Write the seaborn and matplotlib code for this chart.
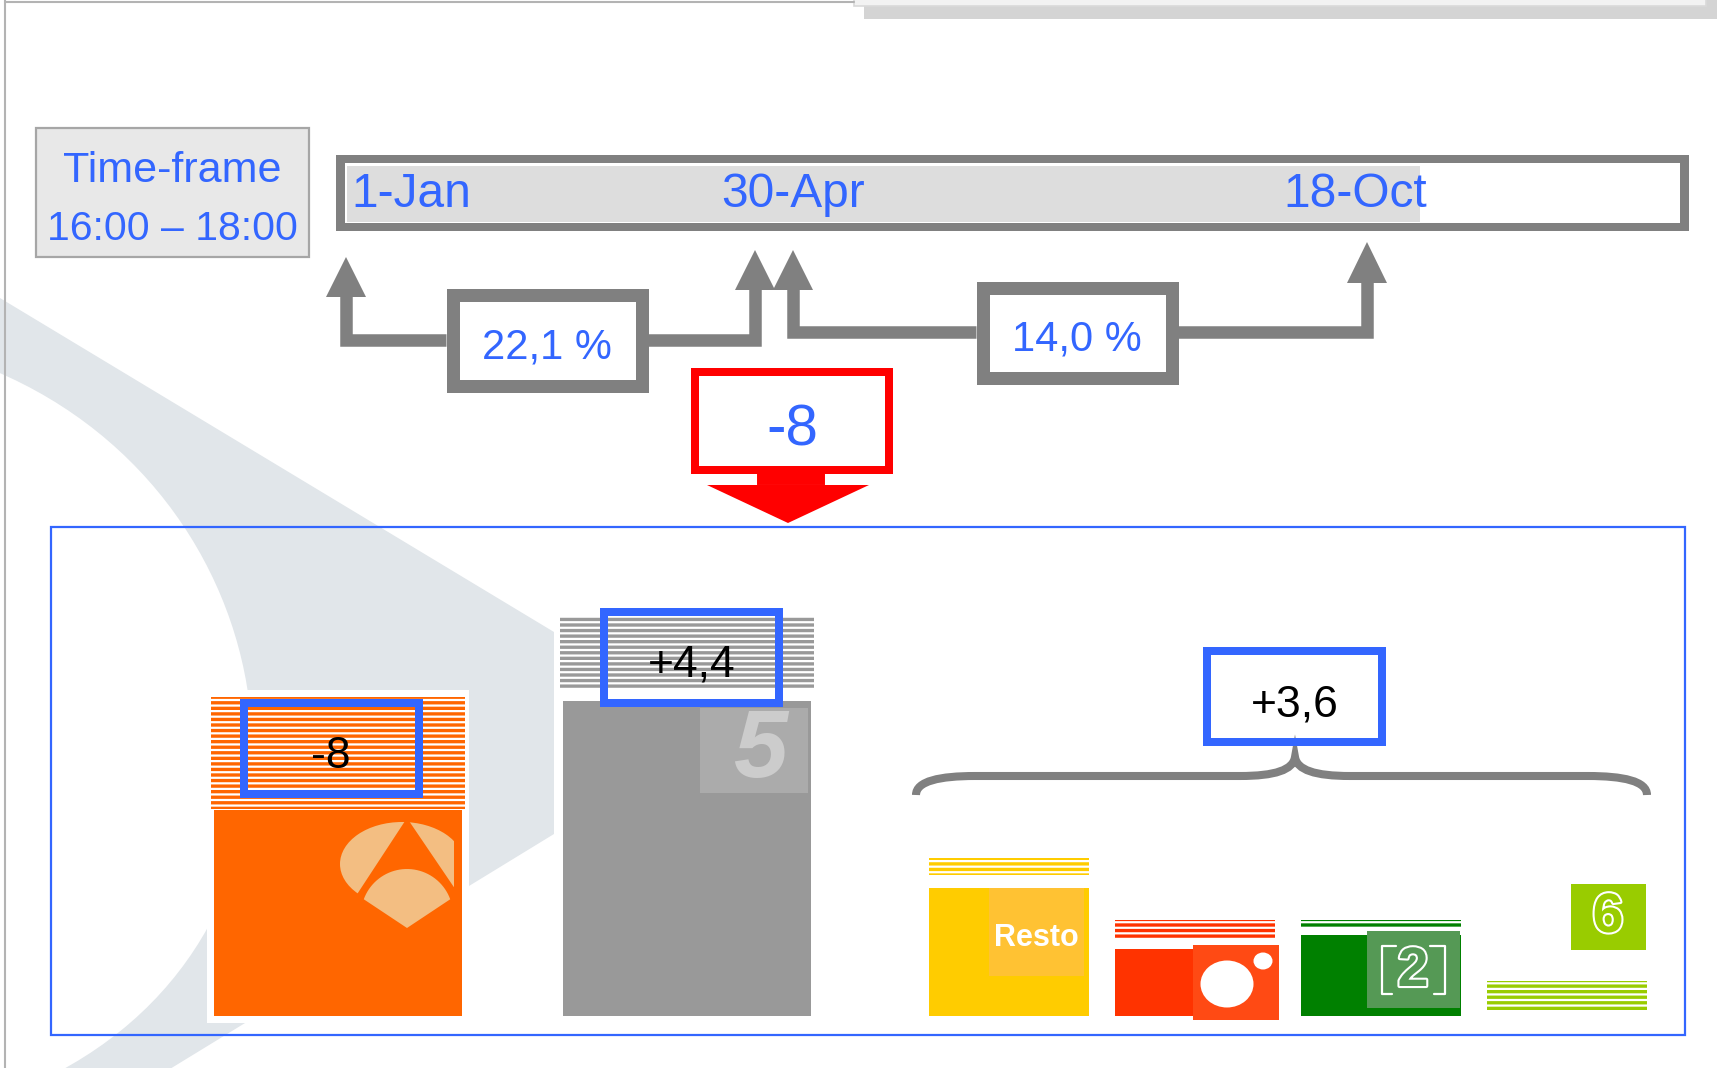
import matplotlib
matplotlib.use('Agg')
import numpy as np
import pandas as pd
import seaborn as sns
import matplotlib.pyplot as plt
import matplotlib.patheffects as pe
from matplotlib import font_manager
from matplotlib.patches import Rectangle, Polygon, Ellipse, PathPatch
from matplotlib.path import Path

# --- data (audience share, points) ---
big_channels = ['Antena 3', 'Telecinco']
big_base = [14.2, 21.7]      # solid part
big_gap = [14.3, 22.5]       # start of striped part
big_top = [22.0, 27.6]       # top of striped part
big_colors = ['#FF6600', '#999999']

small_channels = ['Resto', 'TVE1', 'La 2', 'La Sexta']
small_base = [8.8, 4.6, 5.6, 0.0]
small_gap = [9.7, 5.4, 6.1, 0.3]
small_top = [10.9, 6.6, 6.6, 2.4]
small_colors = ['#FFCC00', '#FF3300', '#008000', '#99CC00']

dates = ['1-Jan', '30-Apr', '18-Oct']
period_shares = ['22,1 %', '14,0 %']
total_change = '-8'
change_labels = ['-8', '+4,4', '+3,6']
timeframe = ['Time-frame', '16:00 – 18:00']

# --- style ---
sns.set_theme(style='white')
installed = {f.name for f in font_manager.fontManager.ttflist}
narrow = 'Liberation Sans Narrow' if 'Liberation Sans Narrow' in installed else 'Liberation Sans'
plt.rcParams['font.family'] = [narrow, 'DejaVu Sans']
plt.rcParams['hatch.linewidth'] = 2.4

BLUE = '#3366FF'
GRAY = '#808080'
RED = '#FF0000'
W, H = 1718, 1068
UNIT_PX = 14.5  # pixels per share point

fig = plt.figure(figsize=(W / 100, H / 100), dpi=100)
fig.patch.set_facecolor('white')


def px_axes(x0, y0, x1, y1, z):
    ax = fig.add_axes([x0 / W, 1 - y1 / H, (x1 - x0) / W, (y1 - y0) / H], zorder=z)
    ax.axis('off')
    return ax


# background layer: swoosh, frame lines
bg = px_axes(0, 0, W, H, 0)
bg.set_xlim(0, W)
bg.set_ylim(H, 0)
swoosh = Path([(-5, 295), (554, 632), (554, 834), (165, 1072), (58, 1072),
               (350, 917), (300, 500), (-5, 371), (-5, 295)],
              [Path.MOVETO, Path.LINETO, Path.LINETO, Path.LINETO, Path.LINETO,
               Path.CURVE4, Path.CURVE4, Path.CURVE4, Path.CLOSEPOLY])
bg.add_patch(PathPatch(swoosh, fc='#E1E6EA', ec='none'))
bg.add_patch(Rectangle((207, 690), 262, 333, fc='white', ec='none'))
bg.plot([5, 5], [0, H], color='#B3B3B3', lw=1.5)
bg.plot([5, 854], [2, 2], color='#B3B3B3', lw=1.5)
bg.add_patch(Rectangle((864, 0), 853, 19, fc='#D4D4D4', ec='none'))
bg.add_patch(Rectangle((854, -5), 852, 11, fc='#F2F2F2', ec='#D9D9D9', lw=1.2))


def draw_bars(ax, cats, base, gap, top, colors, width, solid_width):
    df = pd.DataFrame({'channel': cats, 'base': base, 'gap': gap, 'top': top})
    n0 = len(ax.patches)
    sns.barplot(data=df, x='channel', y='top', order=cats, color='white', width=width,
                errorbar=None, saturation=1, ax=ax)
    for p, c in zip(ax.patches[n0:], colors):
        p.set_facecolor('white')
        p.set_edgecolor(c)
        p.set_linewidth(0)
        p.set_hatch('---')
    n1 = len(ax.patches)
    sns.barplot(data=df, x='channel', y='gap', order=cats, color='white', width=width,
                errorbar=None, saturation=1, ax=ax)
    for p in ax.patches[n1:]:
        p.set_linewidth(0)
    n2 = len(ax.patches)
    sns.barplot(data=df, x='channel', y='base', order=cats, hue='channel', palette=colors,
                width=solid_width, errorbar=None, saturation=1, legend=False, ax=ax)
    for p in ax.patches[n2:]:
        p.set_linewidth(0)
    ax.set_xlim(-0.5, len(cats) - 0.5)
    ax.set_ylim(0, (1016 - 527) / UNIT_PX)
    ax.axis('off')


ax_big = px_axes(163.5, 527, 861.5, 1016, 1)
draw_bars(ax_big, big_channels, big_base, big_gap, big_top, big_colors, 0.73, 0.71)
ax_small = px_axes(916, 527, 1660, 1016, 1)
draw_bars(ax_small, small_channels, small_base, small_gap, small_top, small_colors, 0.855, 0.855)

# foreground layer: timeline, arrows, boxes, logos
ov = px_axes(0, 0, W, H, 3)
ov.set_xlim(0, W)
ov.set_ylim(H, 0)


def frame(x0, y0, x1, y1, t, ec, fc='none', z=3):
    ov.add_patch(Rectangle((x0 + t / 2, y0 + t / 2), x1 - x0 - t, y1 - y0 - t, fc=fc, ec=ec,
                           lw=t * 0.72, joinstyle='miter', zorder=z))


# time-frame box
ov.add_patch(Rectangle((36, 128), 273, 129, fc='#E8E8E8', ec='#A6A6A6', lw=1.6))
ov.text(172, 182, timeframe[0], ha='center', va='baseline', color=BLUE, fontsize=31)
ov.text(172, 240, timeframe[1], ha='center', va='baseline', color=BLUE, fontsize=29.5)

# timeline bar
ov.add_patch(Rectangle((336, 155), 1353, 76, fc=GRAY, ec='none'))
ov.add_patch(Rectangle((345, 163), 1335, 60, fc='white', ec='none'))
ov.add_patch(Rectangle((347, 166), 1073, 56, fc='#DDDDDD', ec='none'))
for d, x in zip(dates, [351, 721, 1283]):
    ov.text(x, 207, d, ha='left', va='baseline', color=BLUE, fontsize=34.5)


# bracket arrows
def arrow(points, head_x, head_base, tip):
    xs, ys = zip(*points)
    ov.plot(xs, ys, color=GRAY, lw=9, solid_joinstyle='miter', solid_capstyle='butt', zorder=2)
    ov.add_patch(Polygon([(head_x - 20, head_base), (head_x + 20, head_base), (head_x, tip)],
                         closed=True, fc=GRAY, ec='none', zorder=2))


arrow([(446, 340), (346, 340), (346, 296)], 346, 297, 257)
arrow([(648, 340), (755, 340), (755, 289)], 755, 290, 250)
arrow([(976, 332), (793, 332), (793, 289)], 793, 290, 250)
arrow([(1178, 332), (1367, 332), (1367, 282)], 1367, 283, 242)

frame(446, 288, 648, 392, 13, GRAY, fc='white')
frame(976, 281, 1178, 384, 13, GRAY, fc='white')
ov.text(547, 358, period_shares[0], ha='center', va='baseline', color=BLUE, fontsize=30)
ov.text(1077, 350, period_shares[1], ha='center', va='baseline', color=BLUE, fontsize=30)

# red change box and arrow
frame(691, 368, 893, 474, 8, RED, fc='white')
ov.add_patch(Rectangle((755, 468), 71, 18, fc=RED, ec='white', lw=2.2))
ov.add_patch(Polygon([(707, 485), (869, 485), (788, 523)], closed=True, fc=RED, ec='none'))
ov.text(792, 446, total_change, ha='center', va='baseline', color=BLUE, fontsize=42)

# lower blue frame
ov.add_patch(Rectangle((51, 527), 1634, 508, fill=False, ec=BLUE, lw=1.6))

# change labels
for (x0, y0, x1, y1), (tx, ty), lab in zip(
        [(240, 699, 423, 798), (600, 608, 783, 707), (1203, 647, 1386, 746)],
        [(331, 768), (692, 677), (1295, 717)], change_labels):
    frame(x0, y0, x1, y1, 8, BLUE)
    ov.text(tx, ty, lab, ha='center', va='baseline', color='black', fontsize=32)

# brace
brace = Path([(916, 795), (916, 781), (940, 776), (975, 776), (1240, 776),
              (1275, 776), (1293, 770), (1295, 757), (1297, 770), (1315, 776), (1350, 776),
              (1588, 776), (1623, 776), (1647, 781), (1647, 795)],
             [Path.MOVETO, Path.CURVE4, Path.CURVE4, Path.CURVE4, Path.LINETO,
              Path.CURVE4, Path.CURVE4, Path.CURVE4, Path.CURVE4, Path.CURVE4, Path.CURVE4,
              Path.LINETO, Path.CURVE4, Path.CURVE4, Path.CURVE4])
ov.add_patch(PathPatch(brace, fc='none', ec=GRAY, lw=5.8, capstyle='butt'))

# Antena 3 logo
PEACH = '#F3BE82'
clip = Rectangle((330, 812), 124, 130, transform=ov.transData)
lobe = Ellipse((402, 864), 124, 84, fc=PEACH, ec='none')
ov.add_patch(lobe)
lobe.set_clip_path(clip)
tri = Polygon([(407, 818), (350, 905), (466, 905)], closed=True, fc='#FF6600', ec='none')
ov.add_patch(tri)
tri.set_clip_path(clip)
ang = np.radians(np.linspace(160, 20, 40))
shield = list(zip(407 + 46 * np.cos(ang), 915 - 46 * np.sin(ang))) + [(407, 928)]
ov.add_patch(Polygon(shield, closed=True, fc=PEACH, ec='none'))

# Telecinco logo
t5_box = Rectangle((700, 708), 108, 85, fc='#ABABAB', ec='none')
ov.add_patch(t5_box)
t5 = ov.text(760, 752, '5', ha='center', va='center', color='#CCCCCC', fontsize=70,
             fontweight='bold', fontstyle='italic')
t5.set_clip_path(t5_box)

# Resto logo
ov.add_patch(Rectangle((989, 888), 95, 88, fc='#FFC233', ec='none'))
ov.text(1036, 946, 'Resto', ha='center', va='baseline', color='white', fontsize=22, fontweight='bold')

# TVE1 logo
ov.add_patch(Rectangle((1193, 945), 86, 75, fc='#FF4A14', ec='none'))
ov.add_patch(Ellipse((1227, 984), 53, 47, fc='white', ec='none'))
ov.add_patch(Ellipse((1263, 961), 19, 17, fc='white', ec='none'))

# La 2 logo
ov.add_patch(Rectangle((1367, 931), 93, 77, fc='#559955', ec='none'))
ov.plot([1396, 1382, 1382, 1392], [946, 946, 994, 994], color='white', lw=1.6)
ov.plot([1430, 1445, 1445, 1434], [946, 946, 994, 994], color='white', lw=1.6)
ov.text(1413, 972, '2', ha='center', va='center', color='#559955', fontsize=40, fontweight='bold',
        path_effects=[pe.withStroke(linewidth=3, foreground='white')])

# La Sexta logo
ov.add_patch(Rectangle((1571, 884), 75, 66, fc='#99CC00', ec='none'))
ov.text(1608, 918, '6', ha='center', va='center', color='#99CC00', fontsize=40, fontweight='bold',
        path_effects=[pe.withStroke(linewidth=3, foreground='white')])

fig.savefig('out.png', dpi=100)
